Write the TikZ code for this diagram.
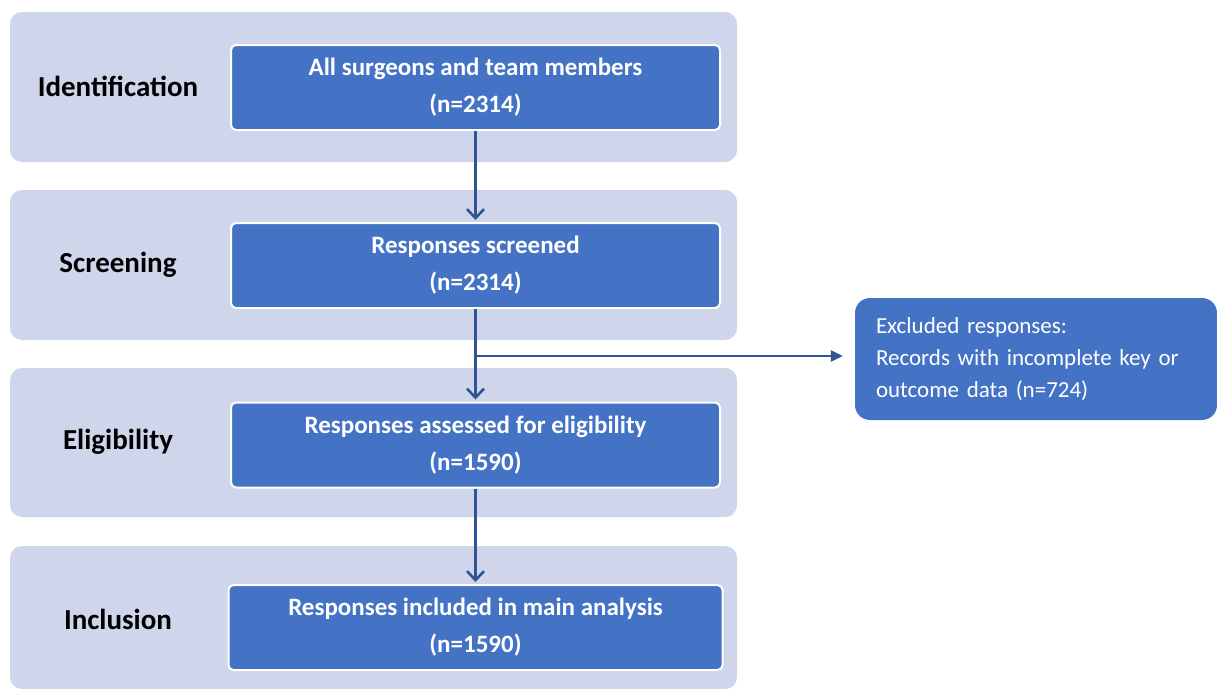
\documentclass[tikz,border=0pt]{standalone}
\usepackage{fontspec}
\setmainfont{Carlito}
\usetikzlibrary{arrows.meta}
\definecolor{bandc}{HTML}{CFD5EA}
\definecolor{boxblue}{HTML}{4472C4}
\definecolor{arrowblue}{HTML}{2F5597}
\begin{document}
\begin{tikzpicture}[x=1pt,y=-1pt,
  bandbox/.style={fill=bandc, rounded corners=12pt},
  stage/.style={font=\fontsize{29}{34}\selectfont\bfseries, text=black, inner sep=0pt},
  stepbox/.style={draw=white, line width=2pt, fill=boxblue, rounded corners=5pt, text=white,
    font=\fontsize{25}{37}\selectfont\bfseries, align=center, minimum width=489pt,
    minimum height=85pt, inner sep=0pt},
  exbox/.style={fill=boxblue, rounded corners=15pt, text=white,
    font=\fontsize{23}{32}\selectfont, align=left, text width=320pt,
    minimum width=362pt, minimum height=122pt, inner xsep=21pt, inner ysep=0pt},
  flow/.style={draw=arrowblue, line width=2.6pt, -{Straight Barb[length=9pt,width=17pt]}, shorten >=2pt},
  flowh/.style={draw=arrowblue, line width=2.6pt, -{Triangle[length=12pt,width=11pt]}, shorten >=12pt}
]
\useasboundingbox (0,0) rectangle (1217,688);
\fill[white] (0,0) rectangle (1217,688);
% bands
\path[bandbox] (10,12) rectangle (737,162);
\path[bandbox] (10,190) rectangle (737,340);
\path[bandbox] (10,368) rectangle (737,517);
\path[bandbox] (10,546) rectangle (737,689);
% stage labels
\node[stage] (l1) at (118,86) {Identification};
\node[stage] (l2) at (118,265) {Screening};
\node[stage] (l3) at (118,442) {Eligibility};
\node[stage] (l4) at (118,619) {Inclusion};
% boxes
\node[stepbox] (b1) at (475.5,87.5) {All surgeons and team members\\(n=2314)};
\node[stepbox] (b2) at (475.5,265.5) {Responses screened\\(n=2314)};
\node[stepbox] (b3) at (475.5,445) {Responses assessed for eligibility\\(n=1590)};
\node[stepbox, minimum width=494pt] (b4) at (475.5,627.5) {Responses included in main analysis\\(n=1590)};
\node[exbox] (ex) at (1036,359) {Excluded responses:\\Records with incomplete key or\\outcome data (n=724)};
% connectors
\draw[flow] (b1) -- (b2);
\draw[flow] (b2) -- (b3);
\draw[flow] (b3) -- (b4);
\coordinate (j) at (475.5,356);
\draw[flowh] (j) -- (ex.west |- j);
\end{tikzpicture}
\end{document}
